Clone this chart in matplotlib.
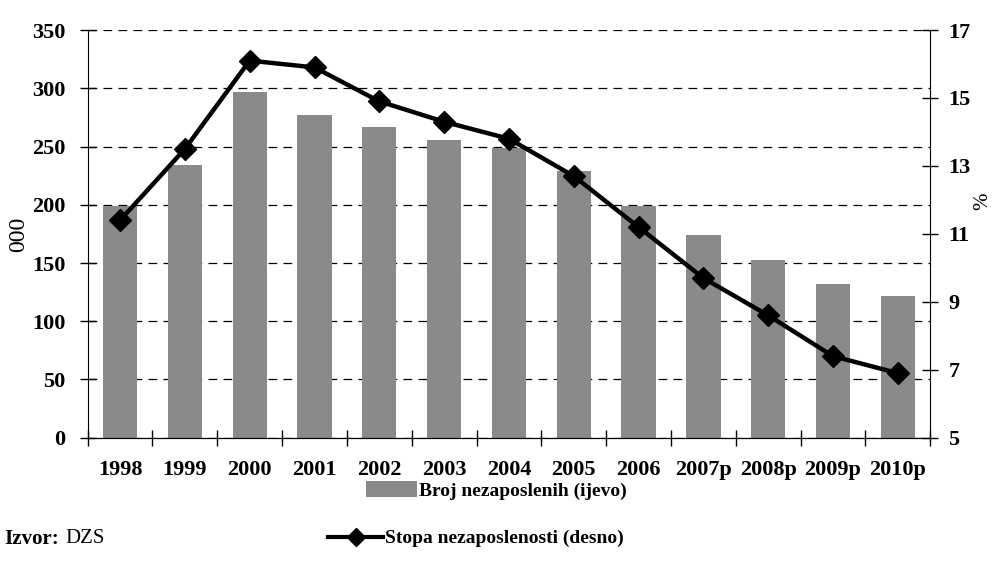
import matplotlib.pyplot as plt
from matplotlib.patches import Patch
from matplotlib.lines import Line2D
import numpy as np

# podaci
godine = ['1998', '1999', '2000', '2001', '2002', '2003', '2004', '2005', '2006',
          '2007p', '2008p', '2009p', '2010p']
broj_nezaposlenih = [199, 234, 297, 277, 267, 256, 249, 229, 199, 174, 153, 132, 122]
stopa_nezaposlenosti = [11.4, 13.5, 16.1, 15.9, 14.9, 14.3, 13.8, 12.7, 11.2, 9.7, 8.6, 7.4, 6.9]

plt.rcParams['font.family'] = ['Liberation Serif', 'DejaVu Serif']
plt.rcParams['font.weight'] = 'bold'

fig = plt.figure(figsize=(9.96, 5.67), dpi=100)
ax = fig.add_axes([0.088, 0.228, 0.846, 0.719])
x = np.arange(len(godine))

ax.bar(x, broj_nezaposlenih, width=0.53, color='#8a8a8a', zorder=2)
ax.set_ylim(0, 350)
ax.set_yticks(np.arange(0, 351, 50))
ax.set_xlim(-0.5, len(godine) - 0.5)
ax.grid(axis='y', color='black', linestyle=(0, (7, 5)), linewidth=0.9, zorder=0)

# kvacice izmedju kategorija
ax.set_xticks(x)
ax.set_xticklabels(godine)
ax.set_xticks(np.arange(-0.5, len(godine), 1), minor=True)
ax.tick_params(axis='x', which='major', length=0, pad=16, labelsize=16)
ax.tick_params(axis='x', which='minor', direction='inout', length=12, width=1)
ax.tick_params(axis='y', direction='inout', length=12, width=1, pad=10, labelsize=16)
ax.set_ylabel('000', fontsize=17, labelpad=2)

for s in ['top', 'right']:
    ax.spines[s].set_visible(False)

ax2 = ax.twinx()
ax2.plot(x, stopa_nezaposlenosti, color='black', linewidth=3.2, marker='D',
         markersize=11, zorder=3)
ax2.set_ylim(5, 17)
ax2.set_yticks(np.arange(5, 18, 2))
ax2.tick_params(axis='y', direction='inout', length=12, width=1, pad=7, labelsize=16)
ax2.set_ylabel('%', fontsize=15, va='center')
ax2.yaxis.set_label_coords(1.062, 0.58)
ax2.spines['top'].set_visible(False)
ax2.spines['left'].set_visible(False)

# legenda
h1 = Patch(facecolor='#8a8a8a', edgecolor='none')
h2 = Line2D([], [], color='black', linewidth=3, marker='D', markersize=9)
fig.legend([h1], ['Broj nezaposlenih (ijevo)'], loc='center left',
           bbox_to_anchor=(0.358, 0.135), frameon=False, fontsize=14,
           handlelength=2.6, handleheight=0.9, handletextpad=0.1, borderpad=0)
fig.legend([h2], ['Stopa nezaposlenosti (desno)'], loc='center left',
           bbox_to_anchor=(0.32, 0.05), frameon=False, fontsize=14,
           handlelength=2.8, handletextpad=0.1, borderpad=0)

fig.text(0.004, 0.05, 'Izvor:', fontsize=15, fontweight='bold', va='center')
fig.text(0.066, 0.05, 'DZS', fontsize=15, fontweight='normal', va='center')

fig.savefig('out.png', dpi=100)
